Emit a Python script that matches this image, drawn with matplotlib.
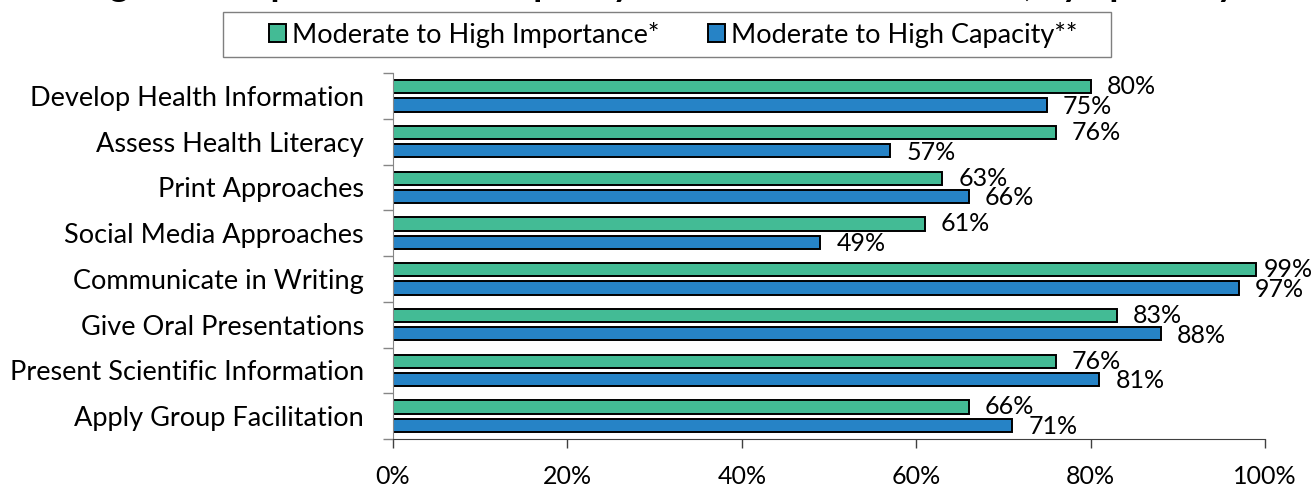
import numpy as np
import matplotlib.pyplot as plt
from matplotlib.patches import Patch, Rectangle

plt.rcParams['font.family'] = ['Lato', 'DejaVu Sans']

skills = ['Develop Health Information', 'Assess Health Literacy', 'Print Approaches',
          'Social Media Approaches', 'Communicate in Writing', 'Give Oral Presentations',
          'Present Scientific Information', 'Apply Group Facilitation']
importance = [80, 76, 63, 61, 99, 83, 76, 66]
capacity = [75, 57, 66, 49, 97, 88, 81, 71]

title = 'Figure 3: Importance and Capacity in Communication Skills, by Specialty'
green = '#43BB95'
blue = '#2683C6'

fig = plt.figure(figsize=(13.15, 4.88), dpi=100)
ax = fig.add_axes([0.2989, 0.1004, 0.6632, 0.75])

y = np.arange(len(skills))
h = 0.29
ax.barh(y - 0.2, importance, height=h, color=green, edgecolor='black', linewidth=1.4)
ax.barh(y + 0.2, capacity, height=h, color=blue, edgecolor='black', linewidth=1.4)


def label_bars(ys, vals, dy):
    for yi, v in zip(ys, vals):
        # labels close to the right edge get pulled in
        dx = 5 if v >= 98 else 11.5
        ax.annotate(f'{v}%', (v, yi), xytext=(dx, dy), textcoords='offset points',
                    va='center', ha='left', fontsize=18)


label_bars(y - 0.2, importance, 0)
label_bars(y + 0.2, capacity, -1)

ax.set_xlim(0, 100)
ax.set_ylim(len(skills) - 0.5, -0.5)
ax.set_xticks(np.arange(0, 101, 20))
ax.set_xticklabels([f'{t}%' for t in range(0, 101, 20)], fontsize=18)
ax.tick_params(axis='x', length=6.5, width=1, color='#404040', pad=12.5)

# category boundaries carry the tick marks, names sit at the centres
ax.set_yticks(np.arange(-0.5, len(skills)), labels=[])
ax.set_yticks(y, labels=skills, minor=True)
ax.tick_params(axis='y', which='major', length=7, width=1, color='#868686')
ax.tick_params(axis='y', which='minor', length=0, pad=21, labelsize=19.5)

for s in ['top', 'right']:
    ax.spines[s].set_visible(False)
ax.spines['left'].set_color('#868686')
ax.spines['bottom'].set_color('#404040')

# legend box drawn separately so its padding can be wider than the entries need
fig.patches.append(Rectangle((0.1696, 0.8832), 0.6753, 0.0922, transform=fig.transFigure,
                             facecolor='white', edgecolor='#7f7f7f', linewidth=1.0))
handles = [Patch(facecolor=green, edgecolor='black', linewidth=1.4),
           Patch(facecolor=blue, edgecolor='black', linewidth=1.4)]
fig.legend(handles, ['Moderate to High Importance*', 'Moderate to High Capacity**'],
           loc='center', bbox_to_anchor=(0.5118, 0.9293), ncol=2, fontsize=19.5,
           frameon=False, handlelength=0.65, handleheight=0.65, handletextpad=0.2,
           columnspacing=1.8, borderpad=0, borderaxespad=0)

fig.text(0.5, 1.009, title, ha='center', va='baseline', fontsize=26, fontweight='bold')

fig.savefig('out.png', dpi=100)
